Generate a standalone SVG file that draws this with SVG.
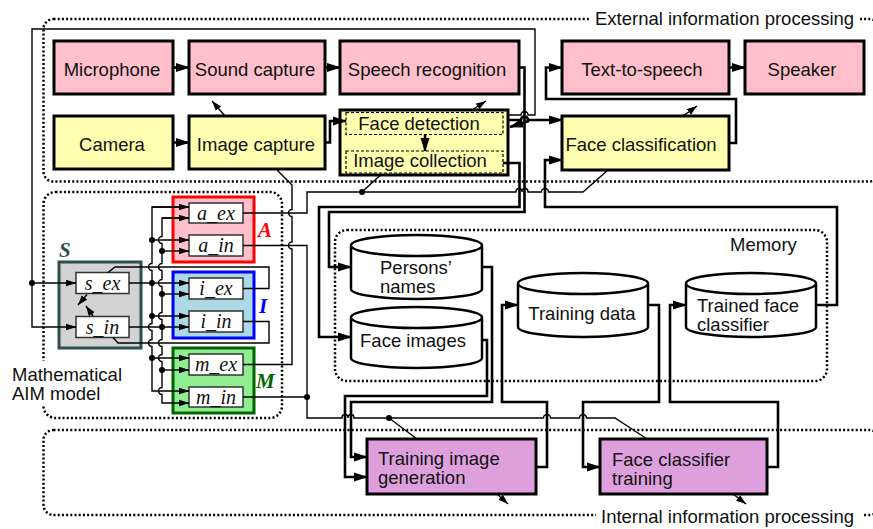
<svg xmlns="http://www.w3.org/2000/svg" width="873" height="529" viewBox="0 0 873 529">
<defs>
<style>
.bx{stroke:#000;stroke-width:3}
.pk{fill:#ffc0cb}
.yl{fill:#ffffb0}
.pl{fill:#dda0dd}
.t{font-family:"Liberation Sans",Arial,sans-serif;font-size:18.5px;fill:#111}
.tc{text-anchor:middle}
.dot{fill:none;stroke:#000;stroke-width:2.5;stroke-dasharray:2 2.2}
.dsh{fill:none;stroke:#000;stroke-width:1.2;stroke-dasharray:3 2}
.th{fill:none;stroke:#000;stroke-width:2.6}
.tn{fill:none;stroke:#000;stroke-width:1.4}
.sb{fill:#fff;stroke:#333;stroke-width:1.5}
.st{font-family:"Liberation Serif","Times New Roman",serif;font-style:italic;font-size:20px;text-anchor:middle;fill:#111}
.lb{font-family:"Liberation Serif","Times New Roman",serif;font-style:italic;font-weight:bold;font-size:21px}
.cy{fill:#fff;stroke:#000;stroke-width:2.5}
.jd{fill:#000}
.aT{marker-end:url(#aT)}
.aS{marker-end:url(#aS)}
.aD{marker-end:url(#aD)}
</style>
<marker id="aT" markerUnits="userSpaceOnUse" markerWidth="14" markerHeight="10" viewBox="0 0 14 10" refX="13" refY="5" orient="auto"><path d="M0,0.5L14,5L0,9.5z"/></marker>
<marker id="aS" markerUnits="userSpaceOnUse" markerWidth="11" markerHeight="8" viewBox="0 0 11 8" refX="10.5" refY="4" orient="auto"><path d="M0,0.5L11,4L0,7.5z"/></marker>
<marker id="aD" markerUnits="userSpaceOnUse" markerWidth="10" markerHeight="8" viewBox="0 0 10 8" refX="10" refY="4" orient="auto"><path d="M0,0.5L10,4L0,7.5z"/></marker>
</defs>
<rect width="873" height="529" fill="#fff"/>

<g id="regions">
<g id="external-region"><rect class="dot" x="43.5" y="19" width="836" height="162.5" rx="10"/><rect x="590" y="9" width="270" height="20" fill="#fff"/><text class="t" x="595" y="25">External information processing</text></g>
<g id="internal-region"><rect class="dot" x="43.5" y="430" width="836" height="85" rx="10"/><rect x="596" y="507" width="266" height="20" fill="#fff"/><text class="t" x="601" y="523">Internal information processing</text></g>
<g id="aim-region"><rect class="dot" x="43.5" y="192" width="238.5" height="226" rx="12"/><rect x="4" y="361" width="122" height="44" fill="#fff"/><text class="t"><tspan x="12" y="381">Mathematical</tspan><tspan x="12" y="400">AIM model</tspan></text></g>
<g id="memory-region"><rect class="dot" x="335" y="230" width="492" height="151" rx="12"/><text class="t" x="730" y="251">Memory</text></g>
</g>

<g id="microphone"><rect class="bx pk" x="54" y="41" width="119" height="53"/><text class="t tc" x="112" y="75.5">Microphone</text></g>
<g id="sound-capture"><rect class="bx pk" x="189" y="41" width="136" height="53"/><text class="t tc" x="255" y="75.5">Sound capture</text></g>
<g id="speech-recognition"><rect class="bx pk" x="340" y="41" width="179" height="53"/><text class="t tc" x="427" y="75.5">Speech recognition</text></g>
<g id="text-to-speech"><rect class="bx pk" x="562" y="41" width="167" height="53"/><text class="t tc" x="642" y="75.5">Text-to-speech</text></g>
<g id="speaker"><rect class="bx pk" x="745" y="41" width="119" height="53"/><text class="t tc" x="802" y="75.5">Speaker</text></g>
<g id="camera"><rect class="bx yl" x="54" y="116" width="119" height="53"/><text class="t tc" x="112" y="151">Camera</text></g>
<g id="image-capture"><rect class="bx yl" x="189" y="116" width="136" height="53"/><text class="t tc" x="256" y="151">Image capture</text></g>
<g id="face-detection-block"><rect class="bx yl" x="340" y="110" width="168" height="65"/>
<g id="face-detection"><rect class="dsh" x="346" y="112.5" width="157" height="22"/><text class="t tc" x="419" y="130">Face detection</text></g>
<g id="image-collection"><rect class="dsh" x="346" y="151" width="157" height="22"/><text class="t tc" x="420" y="167">Image collection</text></g>
</g>
<g id="face-classification"><rect class="bx yl" x="562" y="116" width="167" height="54"/><text class="t tc" x="641" y="151">Face classification</text></g>

<g id="persons-names"><path class="cy" d="M351,245.5 A65.5,10.5 0 0 1 482,245.5 V289 A65.5,10 0 0 1 351,289 Z M351,245.5 A65.5,10.5 0 0 0 482,245.5"/><text class="t"><tspan x="380" y="274">Persons’</tspan><tspan x="380" y="293">names</tspan></text></g>
<g id="face-images"><path class="cy" d="M351,317.5 A65.5,10.5 0 0 1 482,317.5 V358 A65.5,10 0 0 1 351,358 Z M351,317.5 A65.5,10.5 0 0 0 482,317.5"/><text class="t tc" x="413" y="347">Face images</text></g>
<g id="training-data"><path class="cy" d="M518,283.5 A65,10.5 0 0 1 648,283.5 V327 A65,10 0 0 1 518,327 Z M518,283.5 A65,10.5 0 0 0 648,283.5"/><text class="t tc" x="582" y="320">Training data</text></g>
<g id="trained-face-classifier"><path class="cy" d="M686,283.5 A65,10.5 0 0 1 816,283.5 V327 A65,10 0 0 1 686,327 Z M686,283.5 A65,10.5 0 0 0 816,283.5"/><text class="t"><tspan x="697" y="312">Trained face</tspan><tspan x="697" y="331">classifier</tspan></text></g>

<g id="training-image-generation"><rect class="bx pl" x="367" y="439" width="169" height="55"/><text class="t"><tspan x="378" y="465">Training image</tspan><tspan x="378" y="484">generation</tspan></text></g>
<g id="face-classifier-training"><rect class="bx pl" x="600" y="439" width="167" height="55"/><text class="t"><tspan x="612" y="466">Face classifier</tspan><tspan x="612" y="485">training</tspan></text></g>

<g id="S"><rect x="59" y="262" width="82" height="86" fill="#d3d3d3" stroke="#2f4f4f" stroke-width="3"/><text class="lb" x="59" y="257" fill="#2f4f4f">S</text>
<g id="s_ex"><rect class="sb" x="76" y="272.5" width="53" height="21"/><text class="st" x="102.5" y="289.5">s_ex</text></g>
<g id="s_in"><rect class="sb" x="76" y="316.5" width="53" height="21"/><text class="st" x="102.5" y="333.5">s_in</text></g>
</g>
<g id="A"><rect x="173" y="197" width="81" height="65" fill="#ffc0cb" stroke="#ff0000" stroke-width="3"/><text class="lb" x="258" y="237" fill="#ff0000">A</text>
<g id="a_ex"><rect class="sb" x="189" y="203" width="54" height="20"/><text class="st" x="216" y="219.5">a_ex</text></g>
<g id="a_in"><rect class="sb" x="189" y="235" width="54" height="21"/><text class="st" x="216" y="252">a_in</text></g>
</g>
<g id="I"><rect x="173" y="272" width="81" height="66" fill="#add8e6" stroke="#0000ff" stroke-width="3"/><text class="lb" x="259" y="313" fill="#0000ff">I</text>
<g id="i_ex"><rect class="sb" x="189" y="278" width="54" height="21"/><text class="st" x="216" y="295">i_ex</text></g>
<g id="i_in"><rect class="sb" x="189" y="311" width="54" height="21"/><text class="st" x="216" y="328">i_in</text></g>
</g>
<g id="M"><rect x="173" y="348" width="81" height="65" fill="#90ee90" stroke="#006400" stroke-width="3"/><text class="lb" x="256" y="388" fill="#006400">M</text>
<g id="m_ex"><rect class="sb" x="189" y="354" width="54" height="21"/><text class="st" x="216" y="371">m_ex</text></g>
<g id="m_in"><rect class="sb" x="189" y="387" width="54" height="20"/><text class="st" x="216" y="403.5">m_in</text></g>
</g>

<g id="connectors">
<path class="th aT" d="M173,67.5 H189"/>
<path class="th aT" d="M325,67.5 H340"/>
<path class="th aT" d="M729,67.5 H745"/>
<path class="th aT" d="M173,142.5 H189"/>
<path class="th aT" d="M325,142.5 H330 V121 H346"/>
<path class="th aT" d="M425,135 V151"/>
<path class="th aT" d="M508,120 H521 a3.5,3.5 0 0 1 7,0 H562"/>
<path class="th aT" d="M529,121 L510,127"/>
<path class="th aT" d="M503,163 H519.5 V207 H319 V337 H351"/>
<path class="th aT" d="M519,67.5 H524.5 V212 H329 V267 H351"/>
<path class="th aT" d="M729,143 H736 V99 H546 V67.5 H562"/>
<path class="th aT" d="M816,305 H837 V207 H545 V160 H562"/>
<path class="th aT" d="M482,267 H492 V402 H351 V457 H367"/>
<path class="th aT" d="M482,340 H487 V396 H345 V477 H367"/>
<path class="th aT" d="M536,467 H547 V402 H502 V305 H518"/>
<path class="th aT" d="M648,305 H659 V402 H583 V467 H600"/>
<path class="th aT" d="M767,467 H778 V402 H670 V305 H686"/>
<path class="tn aD" d="M225,116 L212,101"/>
<path class="tn aD" d="M472,110 L486,101"/>
<path class="tn aD" d="M683,116 L697,106"/>
<path class="tn aD" d="M497,494 L508,504"/>
<path class="tn aD" d="M733,494 L746,504"/>
<path class="tn aS" d="M508,115 H521 a3.5,3.5 0 0 1 7,0 H535 V29 H32 V327 H76"/>
<path class="tn aS" d="M32,283 H76"/>
<path class="tn aS" d="M189,207 H152 V263.5 a3.5,3.5 0 0 0 0,7 V323.5 a3.5,3.5 0 0 0 0,7 V339.5 a3.5,3.5 0 0 0 0,7 V391 H189"/>
<path class="tn aS" d="M189,218 H162 V236.5 a3.5,3.5 0 0 0 0,7 V263.5 a3.5,3.5 0 0 0 0,7 V279.5 a3.5,3.5 0 0 0 0,7 V312.5 a3.5,3.5 0 0 0 0,7 V339.5 a3.5,3.5 0 0 0 0,7 V354.5 a3.5,3.5 0 0 0 0,7 V387.5 a3.5,3.5 0 0 0 0,7 V403 H189"/>
<path class="tn aS" d="M152,207 H189"/>
<path class="tn aS" d="M162,218 H189"/>
<path class="tn aS" d="M152,240 H189"/>
<path class="tn aS" d="M129,283 H189"/>
<path class="tn aS" d="M152,316 H189"/>
<path class="tn aS" d="M152,358 H189"/>
<path class="tn aS" d="M162,251 H189"/>
<path class="tn aS" d="M162,294 H189"/>
<path class="tn aS" d="M129,327 H189"/>
<path class="tn aS" d="M162,370 H189"/>
<path class="tn" d="M243,288.5 H269 V267 H115 L108,272.5"/>
<path class="tn" d="M243,321.5 H269 V343 H118 L113,337.5"/>
<path class="tn aD" d="M87,294.5 L78,305"/>
<path class="tn aD" d="M93,316 L86,306"/>
<path class="tn" d="M243,213 H307 V192 H516 a3,3.5 0 0 1 6,0 a3,3.5 0 0 1 6,0 H541.5 a3.5,3.5 0 0 1 7,0 H583 L608,170"/>
<path class="tn" d="M362,192 L380,175.5"/>
<path class="tn" d="M243,245.5 H307 V418 H342 a3,3.5 0 0 1 6,0 a3,3.5 0 0 1 6,0 H543.5 a3.5,3.5 0 0 1 7,0 H579.5 a3.5,3.5 0 0 1 7,0 H615 L647,439"/>
<path class="tn" d="M389,418 L417,439"/>
<path class="tn" d="M277,170 L292,185 V209.5 a3.5,3.5 0 0 0 0,7 V242 a3.5,3.5 0 0 0 0,7 V364.5 H243"/>
<path class="tn" d="M243,397 H307"/>
<g class="jd">
<circle cx="32" cy="283" r="3"/>
<circle cx="152" cy="240" r="3"/><circle cx="152" cy="283" r="3"/><circle cx="152" cy="316" r="3"/><circle cx="152" cy="358" r="3"/>
<circle cx="162" cy="251" r="3"/><circle cx="162" cy="294" r="3"/><circle cx="162" cy="327" r="3"/><circle cx="162" cy="370" r="3"/>
<circle cx="362" cy="192" r="3"/><circle cx="307" cy="397" r="3"/><circle cx="389" cy="418" r="3"/>
</g>
</g>
</svg>
